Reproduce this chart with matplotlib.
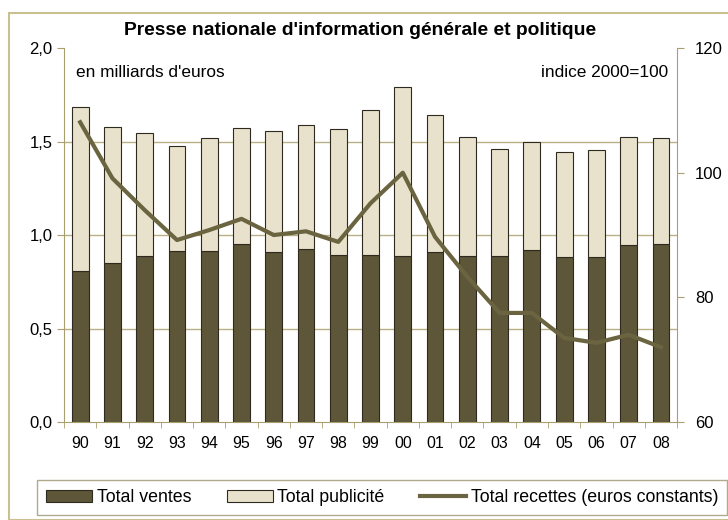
import matplotlib
matplotlib.use("Agg")
import matplotlib.pyplot as plt
import numpy as np
from matplotlib.patches import Rectangle
from matplotlib.ticker import FuncFormatter

years = ["90", "91", "92", "93", "94", "95", "96", "97", "98", "99",
         "00", "01", "02", "03", "04", "05", "06", "07", "08"]
ventes = [0.81, 0.85, 0.89, 0.915, 0.915, 0.95, 0.91, 0.925, 0.893, 0.893,
          0.89, 0.91, 0.89, 0.89, 0.92, 0.885, 0.88, 0.945, 0.95]
total = [1.685, 1.58, 1.545, 1.476, 1.52, 1.57, 1.556, 1.59, 1.567, 1.67,
         1.79, 1.64, 1.525, 1.46, 1.50, 1.445, 1.455, 1.525, 1.52]
recettes = [108.1, 99.1, 94.0, 89.2, 90.8, 92.6, 90.0, 90.6, 88.9, 95.1,
            100.0, 89.7, 83.3, 77.5, 77.5, 73.5, 72.7, 74.0, 72.0]

pub = [t - v for t, v in zip(total, ventes)]

dark = "#5e5638"
light = "#e8e2cc"
linec = "#6b6440"
axc = "#a89f6e"

plt.rcParams["font.family"] = ["Liberation Sans", "DejaVu Sans"]

fig = plt.figure(figsize=(7.28, 5.2), dpi=100)
fig.patch.set_facecolor("white")
fig.patches.append(Rectangle((0.012, 0.0), 0.99, 0.975, transform=fig.transFigure,
                             fill=False, edgecolor="#c9bf8f", linewidth=1.5))

ax = fig.add_axes([0.088, 0.1885, 0.842, 0.719])
x = np.arange(len(years))
w = 0.52
ax.bar(x, ventes, w, color=dark, edgecolor="#2e2a20", linewidth=0.8, zorder=2,
       label="Total ventes")
ax.bar(x, pub, w, bottom=ventes, color=light, edgecolor="#2e2a20", linewidth=0.8,
       zorder=2, label="Total publicité")
ax.set_ylim(0, 2.0)
ax.set_xlim(-0.5, len(years) - 0.5)
ax.set_yticks([0, 0.5, 1.0, 1.5, 2.0])
ax.yaxis.set_major_formatter(FuncFormatter(lambda v, p: ("%.1f" % v).replace(".", ",")))
for yv in [0.5, 1.0, 1.5]:
    ax.axhline(yv, color="#b8b084", linewidth=1.0, zorder=1)
ax.set_xticks(x)
ax.set_xticklabels(years)
ax.set_xticks(np.arange(-0.5, len(years)), minor=True)
ax.tick_params(axis="x", which="major", length=0, labelsize=11.5, pad=10)
ax.tick_params(axis="x", which="minor", length=4, color=axc)
ax.tick_params(axis="y", length=5, color=axc, labelsize=12)
for s in ["top", "right"]:
    ax.spines[s].set_visible(False)
ax.spines["left"].set_color(axc)
ax.spines["bottom"].set_color(axc)

ax2 = ax.twinx()
ax2.plot(x, recettes, color=linec, linewidth=3, zorder=3,
         label="Total recettes (euros constants)")
ax2.set_ylim(60, 120)
ax2.set_yticks([60, 80, 100, 120])
ax2.tick_params(axis="y", length=5, color=axc, labelsize=12, pad=8)
for s in ["top", "left", "bottom"]:
    ax2.spines[s].set_visible(False)
ax2.spines["right"].set_color(axc)

ax.text(0.02, 0.955, "en milliards d'euros", transform=ax.transAxes,
        fontsize=12.4, va="top")
ax.text(0.985, 0.955, "indice 2000=100", transform=ax.transAxes,
        fontsize=12.4, va="top", ha="right")
fig.text(0.495, 0.942, "Presse nationale d'information générale et politique",
         ha="center", va="center", fontsize=13.9, fontweight="bold")

h1, l1 = ax.get_legend_handles_labels()
h2, l2 = ax2.get_legend_handles_labels()
leg = fig.legend(h1 + h2, l1 + l2, loc="center", ncol=3,
                 bbox_to_anchor=(0.525, 0.043), frameon=True, fancybox=False,
                 fontsize=12.8, handlelength=2.6, handleheight=0.6,
                 handletextpad=0.25, columnspacing=2.0, borderpad=0.5,
                 borderaxespad=0)
leg.get_frame().set_edgecolor("#9c9470")
leg.get_frame().set_linewidth(1.0)

fig.savefig("out.png", dpi=100)
